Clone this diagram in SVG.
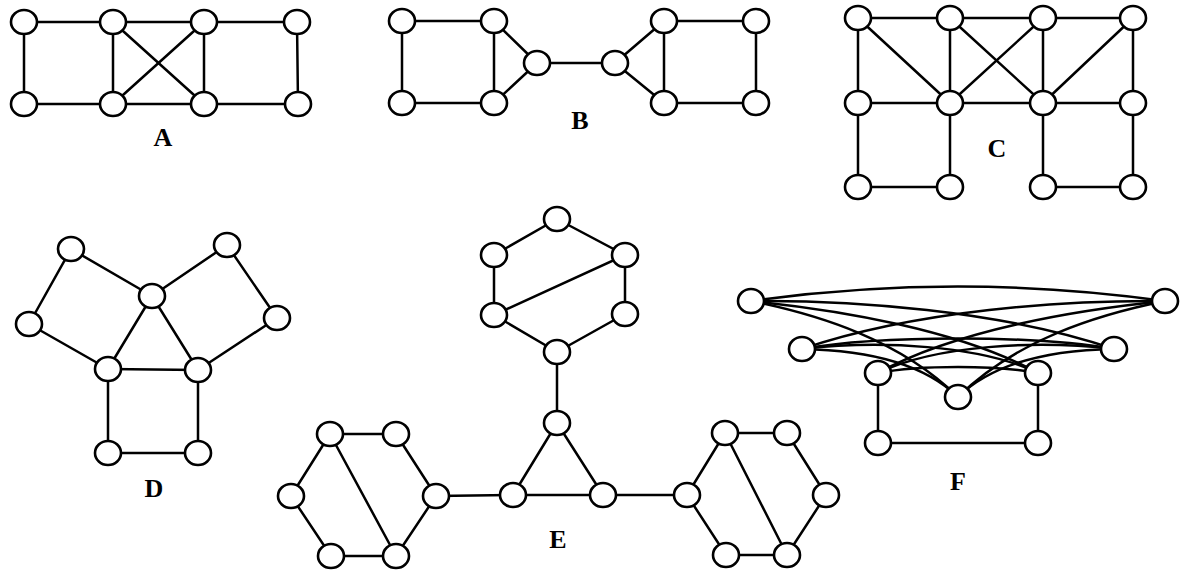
<svg xmlns="http://www.w3.org/2000/svg" width="1181" height="570" viewBox="0 0 1181 570">
  <style>
    .e { stroke: #000; stroke-width: 2.5; fill: none; stroke-linecap: round; }
    .n ellipse { fill: #fff; stroke: #000; stroke-width: 2.6; }
    .lbl { font-family: "Liberation Serif", "Times New Roman", serif; font-weight: bold; font-size: 26px; fill: #000; text-anchor: middle; }
  </style>
  <rect width="1181" height="570" fill="#fff"/>

  <!-- connectors -->
  <g id="connectors">
    <!-- A -->
    <line class="e" x1="24" y1="22" x2="297" y2="22"/>
    <line class="e" x1="24" y1="104" x2="298" y2="104"/>
    <line class="e" x1="24" y1="22" x2="24" y2="104"/>
    <line class="e" x1="113" y1="22" x2="113" y2="104"/>
    <line class="e" x1="204" y1="22" x2="204" y2="104"/>
    <line class="e" x1="297" y1="22" x2="298" y2="104"/>
    <line class="e" x1="113" y1="22" x2="204" y2="104"/>
    <line class="e" x1="204" y1="22" x2="113" y2="104"/>
    <!-- B -->
    <line class="e" x1="402" y1="21" x2="494" y2="21"/>
    <line class="e" x1="402" y1="103" x2="494" y2="103"/>
    <line class="e" x1="402" y1="21" x2="402" y2="103"/>
    <line class="e" x1="494" y1="21" x2="494" y2="103"/>
    <line class="e" x1="494" y1="21" x2="537" y2="63"/>
    <line class="e" x1="494" y1="103" x2="537" y2="63"/>
    <line class="e" x1="537" y1="63" x2="615" y2="63"/>
    <line class="e" x1="615" y1="63" x2="664" y2="21"/>
    <line class="e" x1="615" y1="63" x2="664" y2="103"/>
    <line class="e" x1="664" y1="21" x2="756" y2="21"/>
    <line class="e" x1="664" y1="103" x2="756" y2="103"/>
    <line class="e" x1="664" y1="21" x2="664" y2="103"/>
    <line class="e" x1="756" y1="21" x2="756" y2="103"/>
    <!-- C -->
    <line class="e" x1="858" y1="18" x2="1133" y2="18"/>
    <line class="e" x1="858" y1="103" x2="1133" y2="103"/>
    <line class="e" x1="858" y1="18" x2="858" y2="187"/>
    <line class="e" x1="950" y1="18" x2="950" y2="187"/>
    <line class="e" x1="1043" y1="18" x2="1043" y2="187"/>
    <line class="e" x1="1133" y1="18" x2="1133" y2="187"/>
    <line class="e" x1="858" y1="187" x2="950" y2="187"/>
    <line class="e" x1="1043" y1="187" x2="1133" y2="187"/>
    <line class="e" x1="858" y1="18" x2="950" y2="103"/>
    <line class="e" x1="950" y1="18" x2="1043" y2="103"/>
    <line class="e" x1="1043" y1="18" x2="950" y2="103"/>
    <line class="e" x1="1133" y1="18" x2="1043" y2="103"/>
    <!-- D -->
    <line class="e" x1="71" y1="249" x2="152" y2="296"/>
    <line class="e" x1="71" y1="249" x2="29" y2="324"/>
    <line class="e" x1="29" y1="324" x2="108" y2="369"/>
    <line class="e" x1="152" y1="296" x2="108" y2="369"/>
    <line class="e" x1="152" y1="296" x2="198" y2="370"/>
    <line class="e" x1="152" y1="296" x2="227" y2="245"/>
    <line class="e" x1="227" y1="245" x2="277" y2="318"/>
    <line class="e" x1="277" y1="318" x2="198" y2="370"/>
    <line class="e" x1="108" y1="369" x2="198" y2="370"/>
    <line class="e" x1="108" y1="369" x2="108" y2="453"/>
    <line class="e" x1="198" y1="370" x2="198" y2="453"/>
    <line class="e" x1="108" y1="453" x2="198" y2="453"/>
    <!-- E: upper ring -->
    <line class="e" x1="557" y1="219" x2="494" y2="255"/>
    <line class="e" x1="557" y1="219" x2="625" y2="255"/>
    <line class="e" x1="494" y1="255" x2="494" y2="315"/>
    <line class="e" x1="625" y1="255" x2="625" y2="314"/>
    <line class="e" x1="494" y1="315" x2="557" y2="352"/>
    <line class="e" x1="625" y1="314" x2="557" y2="352"/>
    <line class="e" x1="494" y1="315" x2="625" y2="255"/>
    <line class="e" x1="557" y1="352" x2="557" y2="423"/>
    <!-- E: triangle -->
    <line class="e" x1="557" y1="423" x2="513" y2="495"/>
    <line class="e" x1="557" y1="423" x2="603" y2="495"/>
    <line class="e" x1="513" y1="495" x2="603" y2="495"/>
    <line class="e" x1="436" y1="496" x2="513" y2="495"/>
    <line class="e" x1="603" y1="495" x2="687" y2="495"/>
    <!-- E: left ring -->
    <line class="e" x1="330" y1="434" x2="396" y2="434"/>
    <line class="e" x1="330" y1="434" x2="291" y2="496"/>
    <line class="e" x1="396" y1="434" x2="436" y2="496"/>
    <line class="e" x1="291" y1="496" x2="331" y2="556"/>
    <line class="e" x1="436" y1="496" x2="396" y2="556"/>
    <line class="e" x1="331" y1="556" x2="396" y2="556"/>
    <line class="e" x1="330" y1="434" x2="396" y2="556"/>
    <!-- E: right ring -->
    <line class="e" x1="725" y1="433" x2="787" y2="433"/>
    <line class="e" x1="725" y1="433" x2="687" y2="495"/>
    <line class="e" x1="787" y1="433" x2="826" y2="495"/>
    <line class="e" x1="687" y1="495" x2="726" y2="555"/>
    <line class="e" x1="826" y1="495" x2="787" y2="555"/>
    <line class="e" x1="726" y1="555" x2="787" y2="555"/>
    <line class="e" x1="725" y1="433" x2="787" y2="555"/>
    <!-- F: square -->
    <line class="e" x1="878" y1="373" x2="878" y2="443"/>
    <line class="e" x1="1038" y1="373" x2="1038" y2="443"/>
    <line class="e" x1="878" y1="443" x2="1038" y2="443"/>
    <!-- F: arcs -->
    <path class="e" d="M751,301 Q958,272 1165,301"/>
    <path class="e" d="M751,301 C850,300 1000,310 1114,349"/>
    <path class="e" d="M1165,301 C1066,300 916,310 802,349"/>
    <path class="e" d="M751,301 C840,310 960,330 1038,373"/>
    <path class="e" d="M1165,301 C1076,310 956,330 878,373"/>
    <path class="e" d="M802,349 C880,335 1036,335 1114,349"/>
    <path class="e" d="M802,349 C880,340 980,345 1038,373"/>
    <path class="e" d="M1114,349 C1036,340 936,345 878,373"/>
    <path class="e" d="M878,373 C920,365 996,365 1038,373"/>
    <path class="e" d="M751,301 C820,315 900,340 958,397"/>
    <path class="e" d="M802,349 C860,350 920,360 958,397"/>
    <path class="e" d="M1165,301 C1096,315 1016,340 958,397"/>
    <path class="e" d="M1114,349 C1056,350 996,360 958,397"/>
  </g>

  <!-- A -->
  <g id="a1" class="n"><ellipse cx="24" cy="22" rx="13" ry="12"/></g>
  <g id="a2" class="n"><ellipse cx="113" cy="22" rx="13" ry="12"/></g>
  <g id="a3" class="n"><ellipse cx="204" cy="22" rx="13" ry="12"/></g>
  <g id="a4" class="n"><ellipse cx="297" cy="22" rx="13" ry="12"/></g>
  <g id="a5" class="n"><ellipse cx="24" cy="104" rx="13" ry="12"/></g>
  <g id="a6" class="n"><ellipse cx="113" cy="104" rx="13" ry="12"/></g>
  <g id="a7" class="n"><ellipse cx="204" cy="104" rx="13" ry="12"/></g>
  <g id="a8" class="n"><ellipse cx="298" cy="104" rx="13" ry="12"/></g>
  <text class="lbl" x="163" y="146">A</text>

  <!-- B -->
  <g id="b1" class="n"><ellipse cx="402" cy="21" rx="13" ry="12"/></g>
  <g id="b2" class="n"><ellipse cx="494" cy="21" rx="13" ry="12"/></g>
  <g id="b3" class="n"><ellipse cx="402" cy="103" rx="13" ry="12"/></g>
  <g id="b4" class="n"><ellipse cx="494" cy="103" rx="13" ry="12"/></g>
  <g id="b5" class="n"><ellipse cx="537" cy="63" rx="13" ry="12"/></g>
  <g id="b6" class="n"><ellipse cx="615" cy="63" rx="13" ry="12"/></g>
  <g id="b7" class="n"><ellipse cx="664" cy="21" rx="13" ry="12"/></g>
  <g id="b8" class="n"><ellipse cx="756" cy="21" rx="13" ry="12"/></g>
  <g id="b9" class="n"><ellipse cx="664" cy="103" rx="13" ry="12"/></g>
  <g id="b10" class="n"><ellipse cx="756" cy="103" rx="13" ry="12"/></g>
  <text class="lbl" x="580" y="129">B</text>

  <!-- C -->
  <g id="c1" class="n"><ellipse cx="858" cy="18" rx="13" ry="12"/></g>
  <g id="c2" class="n"><ellipse cx="950" cy="18" rx="13" ry="12"/></g>
  <g id="c3" class="n"><ellipse cx="1043" cy="18" rx="13" ry="12"/></g>
  <g id="c4" class="n"><ellipse cx="1133" cy="18" rx="13" ry="12"/></g>
  <g id="c5" class="n"><ellipse cx="858" cy="103" rx="13" ry="12"/></g>
  <g id="c6" class="n"><ellipse cx="950" cy="103" rx="13" ry="12"/></g>
  <g id="c7" class="n"><ellipse cx="1043" cy="103" rx="13" ry="12"/></g>
  <g id="c8" class="n"><ellipse cx="1133" cy="103" rx="13" ry="12"/></g>
  <g id="c9" class="n"><ellipse cx="858" cy="187" rx="13" ry="12"/></g>
  <g id="c10" class="n"><ellipse cx="950" cy="187" rx="13" ry="12"/></g>
  <g id="c11" class="n"><ellipse cx="1043" cy="187" rx="13" ry="12"/></g>
  <g id="c12" class="n"><ellipse cx="1133" cy="187" rx="13" ry="12"/></g>
  <text class="lbl" x="997" y="157">C</text>

  <!-- D -->
  <g id="d1" class="n"><ellipse cx="71" cy="249" rx="13" ry="12"/></g>
  <g id="d2" class="n"><ellipse cx="227" cy="245" rx="13" ry="12"/></g>
  <g id="d3" class="n"><ellipse cx="152" cy="296" rx="13" ry="12"/></g>
  <g id="d4" class="n"><ellipse cx="29" cy="324" rx="13" ry="12"/></g>
  <g id="d5" class="n"><ellipse cx="277" cy="318" rx="13" ry="12"/></g>
  <g id="d6" class="n"><ellipse cx="108" cy="369" rx="13" ry="12"/></g>
  <g id="d7" class="n"><ellipse cx="198" cy="370" rx="13" ry="12"/></g>
  <g id="d8" class="n"><ellipse cx="108" cy="453" rx="13" ry="12"/></g>
  <g id="d9" class="n"><ellipse cx="198" cy="453" rx="13" ry="12"/></g>
  <text class="lbl" x="154" y="497">D</text>

  <!-- E -->
  <g id="e1" class="n"><ellipse cx="557" cy="219" rx="13" ry="12"/></g>
  <g id="e2" class="n"><ellipse cx="494" cy="255" rx="13" ry="12"/></g>
  <g id="e3" class="n"><ellipse cx="625" cy="255" rx="13" ry="12"/></g>
  <g id="e4" class="n"><ellipse cx="494" cy="315" rx="13" ry="12"/></g>
  <g id="e5" class="n"><ellipse cx="625" cy="314" rx="13" ry="12"/></g>
  <g id="e6" class="n"><ellipse cx="557" cy="352" rx="13" ry="12"/></g>
  <g id="e7" class="n"><ellipse cx="557" cy="423" rx="13" ry="12"/></g>
  <g id="e8" class="n"><ellipse cx="513" cy="495" rx="13" ry="12"/></g>
  <g id="e9" class="n"><ellipse cx="603" cy="495" rx="13" ry="12"/></g>
  <g id="e10" class="n"><ellipse cx="330" cy="434" rx="13" ry="12"/></g>
  <g id="e11" class="n"><ellipse cx="396" cy="434" rx="13" ry="12"/></g>
  <g id="e12" class="n"><ellipse cx="291" cy="496" rx="13" ry="12"/></g>
  <g id="e13" class="n"><ellipse cx="436" cy="496" rx="13" ry="12"/></g>
  <g id="e14" class="n"><ellipse cx="331" cy="556" rx="13" ry="12"/></g>
  <g id="e15" class="n"><ellipse cx="396" cy="556" rx="13" ry="12"/></g>
  <g id="e16" class="n"><ellipse cx="725" cy="433" rx="13" ry="12"/></g>
  <g id="e17" class="n"><ellipse cx="787" cy="433" rx="13" ry="12"/></g>
  <g id="e18" class="n"><ellipse cx="687" cy="495" rx="13" ry="12"/></g>
  <g id="e19" class="n"><ellipse cx="826" cy="495" rx="13" ry="12"/></g>
  <g id="e20" class="n"><ellipse cx="726" cy="555" rx="13" ry="12"/></g>
  <g id="e21" class="n"><ellipse cx="787" cy="555" rx="13" ry="12"/></g>
  <text class="lbl" x="558" y="548">E</text>

  <!-- F -->
  <g id="f1" class="n"><ellipse cx="751" cy="301" rx="13" ry="12"/></g>
  <g id="f2" class="n"><ellipse cx="1165" cy="301" rx="13" ry="12"/></g>
  <g id="f3" class="n"><ellipse cx="802" cy="349" rx="13" ry="12"/></g>
  <g id="f4" class="n"><ellipse cx="1114" cy="349" rx="13" ry="12"/></g>
  <g id="f5" class="n"><ellipse cx="878" cy="373" rx="13" ry="12"/></g>
  <g id="f6" class="n"><ellipse cx="1038" cy="373" rx="13" ry="12"/></g>
  <g id="f7" class="n"><ellipse cx="958" cy="397" rx="13" ry="12"/></g>
  <g id="f8" class="n"><ellipse cx="878" cy="443" rx="13" ry="12"/></g>
  <g id="f9" class="n"><ellipse cx="1038" cy="443" rx="13" ry="12"/></g>
  <text class="lbl" x="958" y="490">F</text>
</svg>
